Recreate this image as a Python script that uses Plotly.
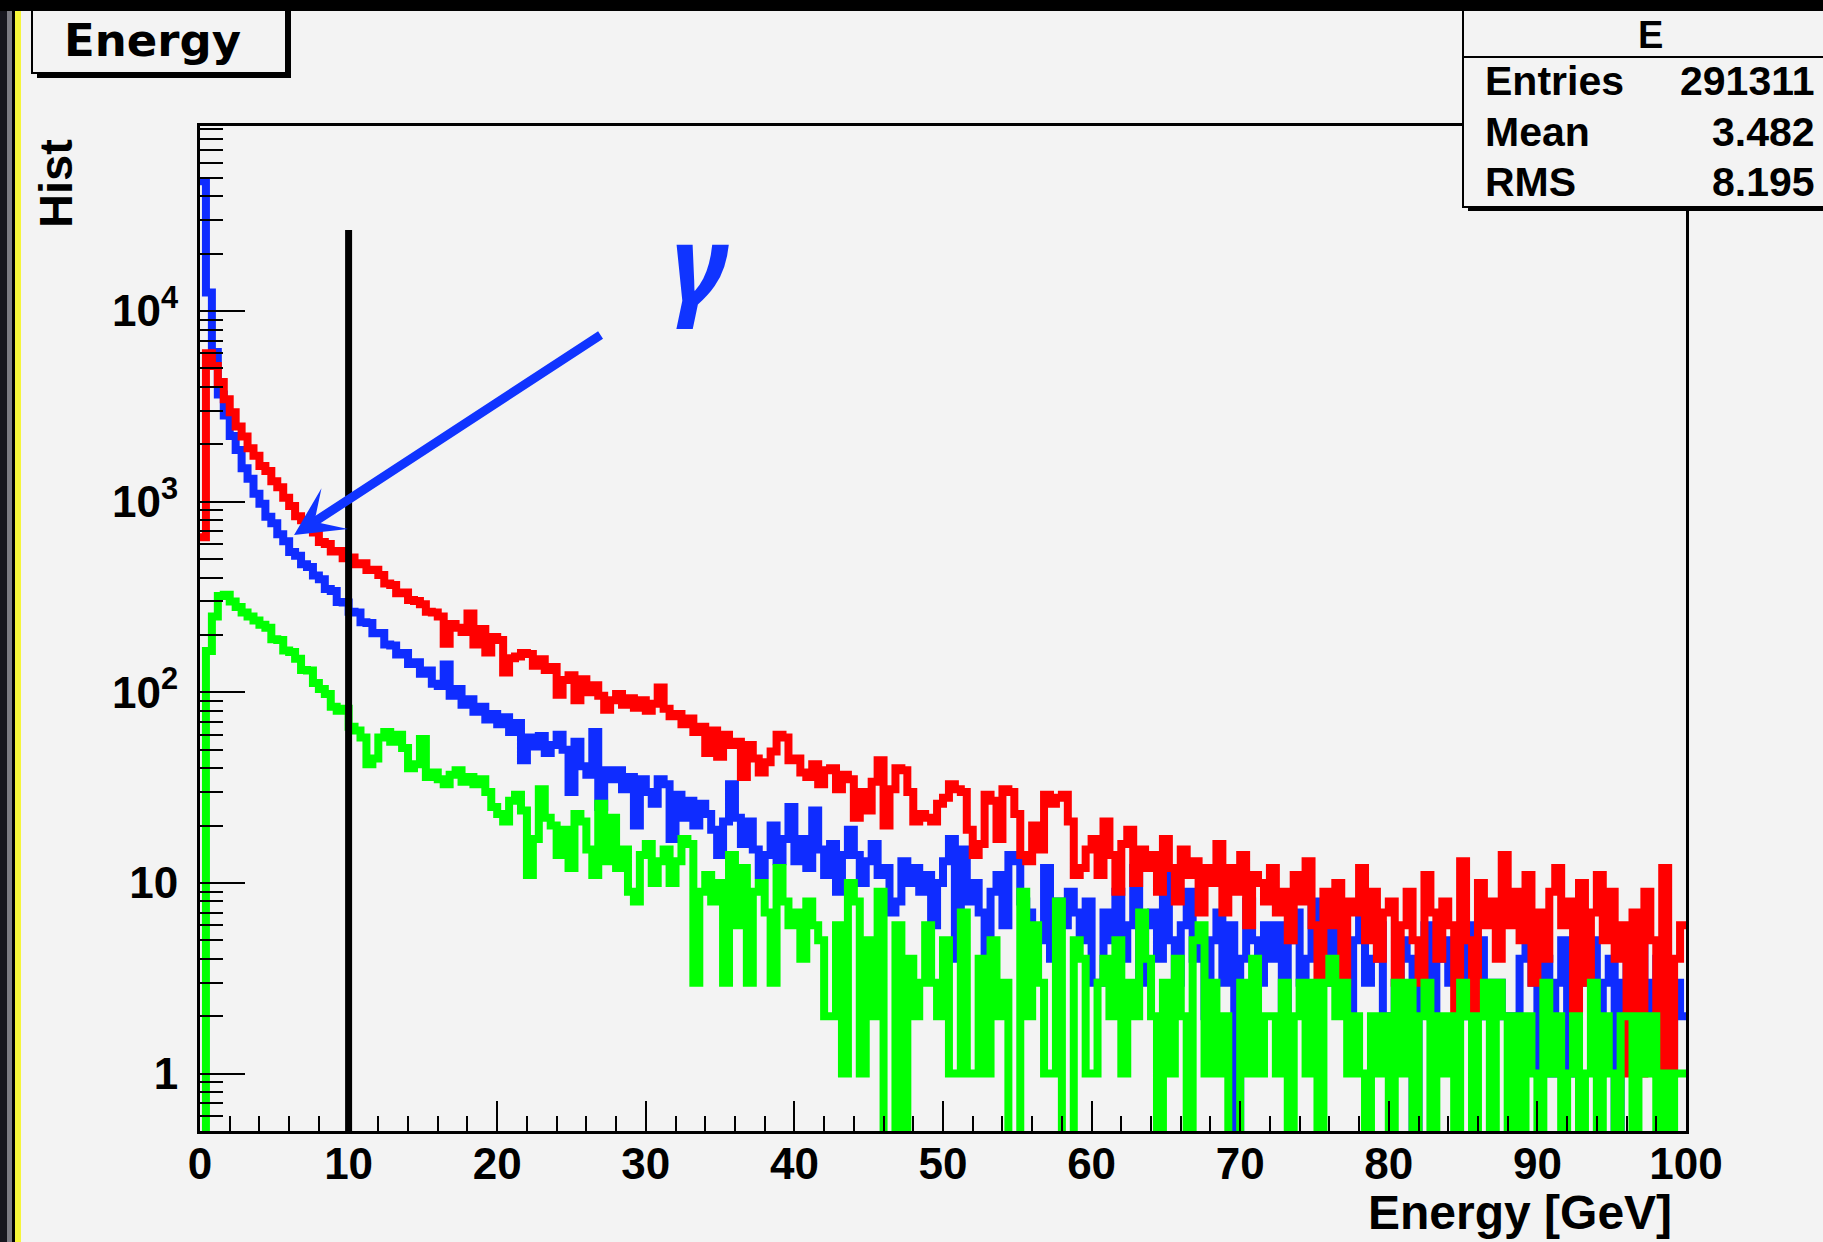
import numpy as np
import plotly.graph_objects as go

# ---------------- data ----------------
N_BINS = 250
E_MIN, E_MAX = 0.0, 100.0

RED = [
    650, 6000, 5150, 4250, 3450, 2950, 2480, 2200, 1910, 1740,
    1540, 1450, 1280, 1190, 1050, 950, 840, 800, 720, 690,
    615, 600, 548, 552, 505, 510, 470, 475, 438, 440,
    412, 372, 366, 331, 334, 305, 301, 290, 265, 262,
    250, 180, 228, 218, 207, 259, 178, 215, 162, 195,
    188, 127, 151, 154, 161, 159, 138, 149, 131, 136,
    97, 116, 123, 91, 117, 100, 109, 96, 81, 91,
    98, 86, 93, 83, 91, 80, 87, 106, 82, 75,
    77, 68, 73, 62, 66, 48, 63, 46, 60, 53,
    55, 36, 53, 45, 38, 43, 49, 60, 58, 44,
    45, 38, 36, 42, 33, 39, 40, 31, 37, 35,
    22, 30, 24, 34, 44, 20, 31, 40, 39, 30,
    21, 23, 22, 21, 26, 28, 33, 31, 30, 19,
    14, 16, 29, 27, 17, 31, 30, 23, 14, 13,
    20, 15, 29, 26, 28, 29, 21, 11, 12, 15,
    17, 11, 21, 14, 9, 16, 19, 10, 15, 12,
    14, 9, 17, 12, 8, 15, 11, 13, 7, 12,
    10, 16, 7, 12, 9, 14, 6, 11, 10, 8,
    12, 7, 9, 5, 11, 8, 13, 6, 3, 9,
    6, 10, 3, 8, 7, 12, 5, 9, 4, 7,
    8, 3, 6, 9, 5, 3, 11, 7, 4, 8,
    6, 2, 13, 5, 2, 10, 6, 8, 4, 14,
    6, 9, 5, 11, 3, 7, 4, 9, 12, 6,
    8, 2, 10, 3, 7, 11, 5, 9, 4, 6,
    1, 7, 1, 9, 5, 1, 12, 1, 4, 6,
]

BLUE = [
    48000, 12500, 6100, 3650, 2830, 2210, 1870, 1500, 1320, 1100,
    975, 835, 770, 675, 620, 545, 520, 470, 455, 410,
    392, 348, 340, 298, 296, 265, 262, 233, 231, 204,
    205, 178, 176, 158, 161, 141, 144, 125, 130, 111,
    108, 140, 96, 104, 86, 92, 79, 84, 72, 77,
    68, 74, 62, 69, 44, 58, 52, 59, 48, 53,
    60, 50, 30, 55, 41, 37, 62, 25, 39, 35,
    39, 31, 36, 20, 35, 30, 26, 35, 33, 17,
    29, 22, 27, 20, 26, 23, 19, 14, 21, 33,
    22, 16, 21, 15, 11, 14, 20, 13, 17, 25,
    13, 17, 12, 24, 15, 11, 16, 9, 14, 19,
    14, 10, 13, 16, 11, 12, 7, 8, 13, 10,
    12, 9, 11, 6, 10, 13, 17, 4, 15, 8,
    10, 7, 4, 9, 11, 6, 14, 13, 8, 7,
    5, 5, 12, 4, 8, 6, 9, 7, 5, 8,
    3, 3, 7, 5, 9, 4, 6, 12, 3, 6,
    7, 4, 11, 5, 3, 6, 9, 4, 5, 2,
    5, 7, 3, 6, 0, 4, 8, 5, 3, 6,
    4, 6, 2, 5, 7, 3, 4, 8, 5, 3,
    6, 3, 4, 2, 5, 7, 3, 4, 6, 2,
    2, 3, 5, 4, 0, 3, 6, 2, 4, 5,
    3, 4, 2, 6, 3, 5, 2, 3, 3, 2,
    2, 0, 4, 5, 3, 1, 4, 1, 3, 5,
    1, 1, 3, 4, 5, 1, 3, 4, 0, 3,
    4, 2, 5, 3, 2, 4, 1, 1, 3, 2,
]

GREEN = [
    0, 165, 250, 320, 325, 300, 280, 262, 250, 238,
    226, 218, 190, 188, 166, 163, 150, 131, 130, 112,
    104, 98, 84, 80, 82, 66, 63, 58, 42, 45,
    58, 62, 55, 60, 51, 40, 42, 57, 36, 38,
    35, 33, 37, 39, 34, 36, 33, 35, 30, 25,
    23, 21, 27, 29, 24, 11, 17, 31, 22, 20,
    14, 19, 12, 23, 21, 15, 11, 26, 13, 22,
    12, 15, 9, 8, 14, 16, 10, 13, 15, 10,
    13, 17, 16, 3, 9, 11, 8, 10, 3, 14,
    6, 12, 3, 9, 10, 7, 3, 12, 8, 6,
    7, 4, 8, 6, 5, 2, 2, 6, 1, 10,
    8, 1, 5, 2, 9, 0, 0, 6, 0, 4,
    2, 3, 6, 3, 2, 5, 1, 1, 7, 1,
    1, 4, 1, 5, 2, 3, 0, 0, 9, 2,
    6, 3, 1, 1, 8, 0, 0, 5, 4, 1,
    1, 3, 4, 2, 5, 1, 3, 2, 7, 4,
    2, 0, 3, 1, 4, 2, 0, 5, 6, 1,
    3, 1, 2, 0, 0, 3, 1, 4, 1, 2,
    2, 1, 3, 0, 2, 3, 1, 3, 0, 3,
    4, 2, 3, 1, 2, 1, 0, 2, 1, 2,
    0, 3, 1, 3, 0, 2, 3, 0, 2, 1,
    2, 0, 3, 2, 0, 2, 3, 0, 3, 2,
    0, 2, 0, 2, 1, 0, 3, 1, 2, 0,
    1, 2, 0, 1, 3, 0, 2, 1, 0, 2,
    2, 0, 2, 1, 2, 0, 1, 0, 1, 1,
]

X_TICKS = [0, 10, 20, 30, 40, 50, 60, 70, 80, 90, 100]
Y_TICKS = [1, 10, 100, 1000, 10000]
Y_TICK_TEXT = ["1", "10", "10<sup>2</sup>", "10<sup>3</sup>", "10<sup>4</sup>"]
Y_MIN, Y_MAX = 0.5, 93500

HIST_TITLE = "Energy"
X_TITLE = "Energy [GeV]"
Y_TITLE = "Hist"
STATS_NAME = "E"
STATS_LABELS = ["Entries", "Mean", "RMS"]
STATS_VALUES = ["291311", "3.482", "8.195"]

CUT_ENERGY = 10.0
CUT_TOP = 26600
ARROW_TIP_E = 6.33
ARROW_TIP_COUNT = 668
GAMMA = "\u03b3"

# ---------------- style ----------------
C_RED = "#ff0000"
C_BLUE = "#0f2cff"
C_GREEN = "#00ff00"
C_ARROW = "#1034ff"
BG = "#f3f3f3"
FONT = "Liberation Sans"
LINE_W = 8

W, H = 1823, 1242
L, R, T, B = 200, 1686, 126, 1131


def px(x):
    return (x - L) / (R - L)


def py(y):
    return (B - y) / (B - T)


FLOOR = 0.08  # empty bins drop below the visible axis
edges = np.linspace(E_MIN, E_MAX, N_BINS + 1)

fig = go.Figure()
for vals, col in [(BLUE, C_BLUE), (RED, C_RED), (GREEN, C_GREEN)]:
    yy = [max(v, FLOOR) for v in vals] + [max(vals[-1], FLOOR)]
    fig.add_trace(go.Scatter(x=edges, y=yy, mode="lines",
                             line=dict(color=col, width=LINE_W, shape="hv"),
                             hoverinfo="skip", showlegend=False))

fig.add_trace(go.Scatter(x=[CUT_ENERGY, CUT_ENERGY], y=[FLOOR, CUT_TOP], mode="lines",
                         line=dict(color="black", width=7), hoverinfo="skip",
                         showlegend=False))

minor_y = [m / 10 for m in range(5, 10)] + [m * 10 ** d for d in range(0, 5) for m in range(2, 10)]

fig.update_layout(
    width=W, height=H, autosize=False,
    margin=dict(l=L, r=W - R, t=T, b=H - B, pad=0),
    paper_bgcolor=BG, plot_bgcolor=BG,
    showlegend=False,
    xaxis=dict(range=[E_MIN, E_MAX], tickvals=X_TICKS, ticks="inside", ticklen=30,
               tickwidth=2, tickcolor="black", showline=True, linecolor="black",
               linewidth=3, mirror=True, showgrid=False, zeroline=False,
               ticklabelstandoff=-8,
               tickfont=dict(family=FONT, size=44, color="black", weight="bold"),
               minor=dict(dtick=2, ticks="inside", ticklen=15, tickwidth=2,
                          tickcolor="black", showgrid=False)),
    yaxis=dict(type="log", range=[np.log10(Y_MIN), np.log10(Y_MAX)],
               tickvals=Y_TICKS, ticktext=Y_TICK_TEXT, ticks="inside", ticklen=45,
               tickwidth=2, tickcolor="black", showline=True, linecolor="black",
               linewidth=3, mirror=True, showgrid=False, zeroline=False,
               ticklabelstandoff=10,
               tickfont=dict(family=FONT, size=44, color="black", weight="bold"),
               minor=dict(tickvals=minor_y, ticks="inside", ticklen=23, tickwidth=2,
                          tickcolor="black", showgrid=False)),
)

shapes = []


def rect(x0, y0, x1, y1, fill, lw=0, lc="black"):
    shapes.append(dict(type="rect", xref="paper", yref="paper", layer="above",
                       x0=px(x0), x1=px(x1), y0=py(y0), y1=py(y1),
                       fillcolor=fill, line=dict(width=lw, color=lc)))


def hline(x0, x1, y, lw=2):
    shapes.append(dict(type="line", xref="paper", yref="paper", layer="above",
                       x0=px(x0), x1=px(x1), y0=py(y), y1=py(y),
                       line=dict(width=lw, color="black")))


# title box with shadow
rect(37, 4, 291, 78, "black")
rect(32, -6, 286, 73, BG, 2)
# stats box with shadow
rect(1468, 4, 1850, 211, "black")
rect(1463, -6, 1845, 207, BG, 2)
hline(1463, 1845, 57)
# window frame: left strip and top band
rect(0, 0, 7, H, "#17171f")
rect(7, 0, 12, H, "#7c7c84")
rect(12, 0, 15, H, "black")
rect(15, 0, 21, H, "#f6f63a")
rect(0, 0, W, 11, "black")

annotations = []


def text(x, y, s, size, xanchor="left", family=FONT, color="black", angle=0, weight="bold"):
    annotations.append(dict(xref="paper", yref="paper", x=px(x), y=py(y), text=s,
                            showarrow=False, xanchor=xanchor, yanchor="middle",
                            textangle=angle,
                            font=dict(family=family, size=size, color=color,
                                      weight=weight)))


text(62, 40, HIST_TITLE, 45, family="DejaVu Sans")
text(1650, 35, STATS_NAME, 38, xanchor="center")
for lab, val, yy in zip(STATS_LABELS, STATS_VALUES, [81, 132, 182]):
    text(1483, yy, lab, 41)
    text(1817, yy, val, 41, xanchor="right")
text(1674, 1212, X_TITLE, 48, xanchor="right")
text(55, 184, Y_TITLE, 47, xanchor="center", angle=-90)
text(700, 262, "<i>" + GAMMA + "</i>", 112, xanchor="center", family="Noto Sans",
     color=C_ARROW, weight="bold")

annotations.append(dict(xref="x", yref="y", x=ARROW_TIP_E, y=np.log10(ARROW_TIP_COUNT),
                        ax=308, ay=-201, text="", showarrow=True, arrowhead=3,
                        arrowwidth=9, arrowsize=0.9, arrowcolor=C_ARROW, standoff=0))

fig.update_layout(shapes=shapes, annotations=annotations)

fig.write_html("out.html", config={"displayModeBar": False},
               post_script="document.body.style.margin='0';")
